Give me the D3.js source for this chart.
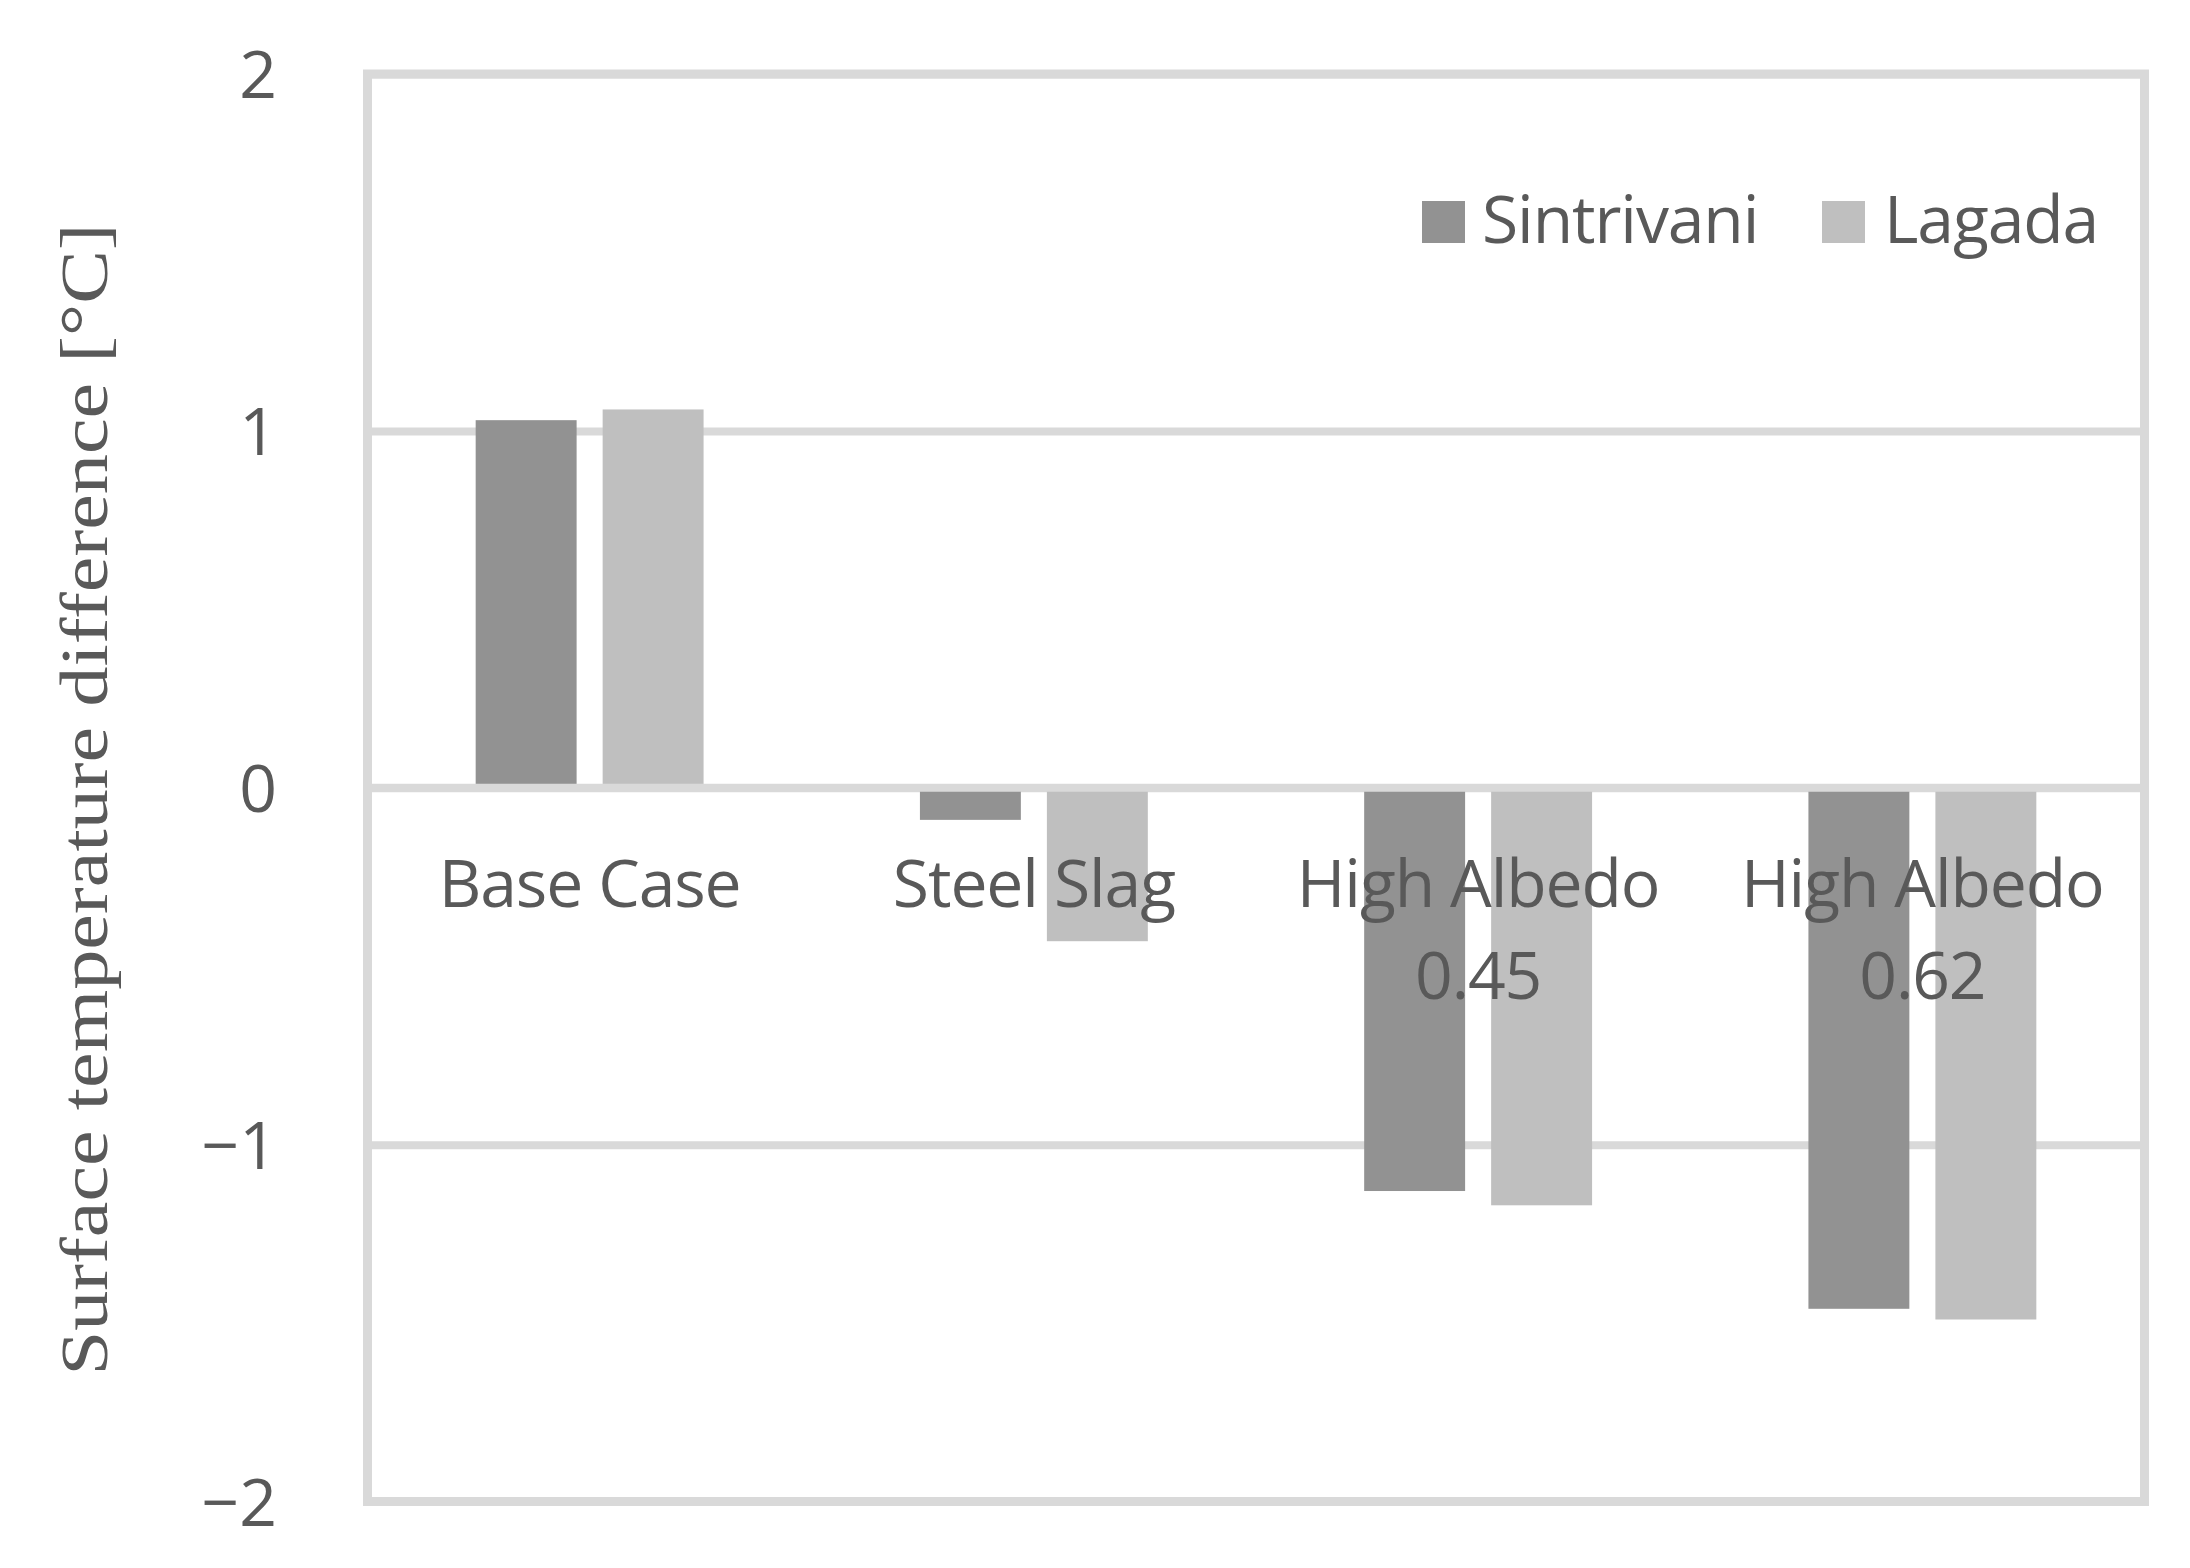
<!DOCTYPE html>
<html>
<head>
<meta charset="utf-8">
<script src="https://cdn.jsdelivr.net/npm/d3@7"></script>
<style>
  html, body { margin: 0; padding: 0; background: #fff; }
  svg { display: block; }
</style>
</head>
<body>
<svg id="chart" width="2190" height="1568"></svg>
<script>
// ---- data ----
const categories = ["Base Case", "Steel Slag", "High Albedo 0.45", "High Albedo 0.62"];
const categoryLines = [["Base Case"], ["Steel Slag"], ["High Albedo", "0.45"], ["High Albedo", "0.62"]];
const seriesNames = ["Sintrivani", "Lagada"];
const sintrivani = [1.03, -0.09, -1.13, -1.46];
const lagada = [1.06, -0.43, -1.17, -1.49];
const yTicks = [-2, -1, 0, 1, 2];
const yTickLabels = ["\u22122", "\u22121", "0", "1", "2"];
const yTitle = "Surface temperature difference [\u00B0C]";

// ---- layout ----
const svg = d3.select("#chart");
const L = 367.5, R = 2144.5, T = 74, B = 1501.5;
const colors = { Sintrivani: "#929292", Lagada: "#bfbfbf" };
const gridColor = "#d9d9d9";
const textColor = "#595959";
const font = "'Open Sans', sans-serif";
const ls = "-1.1px";

const y = d3.scaleLinear().domain([-2, 2]).range([B, T]);
const x0 = d3.scaleBand().domain(categories).range([L, R]).paddingInner(0).paddingOuter(0);
const bw = x0.bandwidth();
const pairW = bw * 0.513;
const x1 = d3.scaleBand().domain(seriesNames).range([(bw - pairW) / 2, (bw + pairW) / 2]).paddingInner(0.205).paddingOuter(0);

const rows = categories.map((c, i) => ({ cat: c, Sintrivani: sintrivani[i], Lagada: lagada[i] }));

// gridlines
const gridAxis = d3.axisLeft(y).tickValues(yTicks).tickSize(-(R - L)).tickFormat("");
const gg = svg.append("g").attr("transform", `translate(${L},0)`).call(gridAxis);
gg.select(".domain").remove();
gg.selectAll("line").attr("stroke", gridColor).attr("stroke-width", 8);

// bars
const groups = svg.append("g").selectAll("g").data(rows).join("g")
  .attr("transform", d => `translate(${x0(d.cat)},0)`);
groups.selectAll("rect").data(d => seriesNames.map(s => ({ s, v: d[s] }))).join("rect")
  .attr("x", d => x1(d.s))
  .attr("width", x1.bandwidth())
  .attr("y", d => y(Math.max(0, d.v)))
  .attr("height", d => Math.abs(y(d.v) - y(0)))
  .attr("fill", d => colors[d.s]);

// zero line on top
svg.append("line").attr("x1", L).attr("x2", R).attr("y1", y(0)).attr("y2", y(0))
  .attr("stroke", gridColor).attr("stroke-width", 8);

// frame
svg.append("rect").attr("x", L).attr("y", T).attr("width", R - L).attr("height", B - T)
  .attr("fill", "none").attr("stroke", gridColor).attr("stroke-width", 9);

// y tick labels
const yAxis = d3.axisLeft(y).tickValues(yTicks).tickSize(0).tickPadding(L - 277)
  .tickFormat((d) => yTickLabels[yTicks.indexOf(d)]);
const ya = svg.append("g").attr("transform", `translate(${L},0)`).call(yAxis);
ya.select(".domain").remove();
ya.selectAll("text").attr("fill", textColor).style("font-family", font).style("font-size", "66px")
  .attr("dy", "0.36em");

// category labels
const cl = svg.append("g").selectAll("text").data(categories).join("text")
  .attr("x", d => x0(d) + bw / 2)
  .attr("y", 907)
  .attr("text-anchor", "middle")
  .attr("fill", textColor)
  .style("font-family", font).style("font-size", "66px").style("letter-spacing", ls);
cl.each(function(d, i) {
  const t = d3.select(this);
  categoryLines[i].forEach((line, j) => {
    t.append("tspan").attr("x", x0(d) + bw / 2).attr("dy", j === 0 ? 0 : 92).text(line);
  });
});

// legend
const legendItems = [{ s: "Sintrivani", sx: 1422, tx: 1482 }, { s: "Lagada", sx: 1822, tx: 1884 }];
const lg = svg.append("g");
legendItems.forEach(it => {
  lg.append("rect").attr("x", it.sx).attr("y", 201).attr("width", 43).attr("height", 42).attr("fill", colors[it.s]);
  lg.append("text").attr("x", it.tx).attr("y", 243).attr("fill", textColor)
    .style("font-family", font).style("font-size", "66px").style("letter-spacing", ls).text(it.s);
});

// y title
svg.append("text")
  .attr("transform", `translate(107,${(223 + 1376) / 2}) rotate(-90)`)
  .attr("text-anchor", "middle")
  .attr("fill", textColor)
  .attr("textLength", 1152).attr("lengthAdjust", "spacingAndGlyphs")
  .style("font-family", "'Liberation Serif', serif").style("font-size", "68px")
  .text(yTitle);
</script>
</body>
</html>
